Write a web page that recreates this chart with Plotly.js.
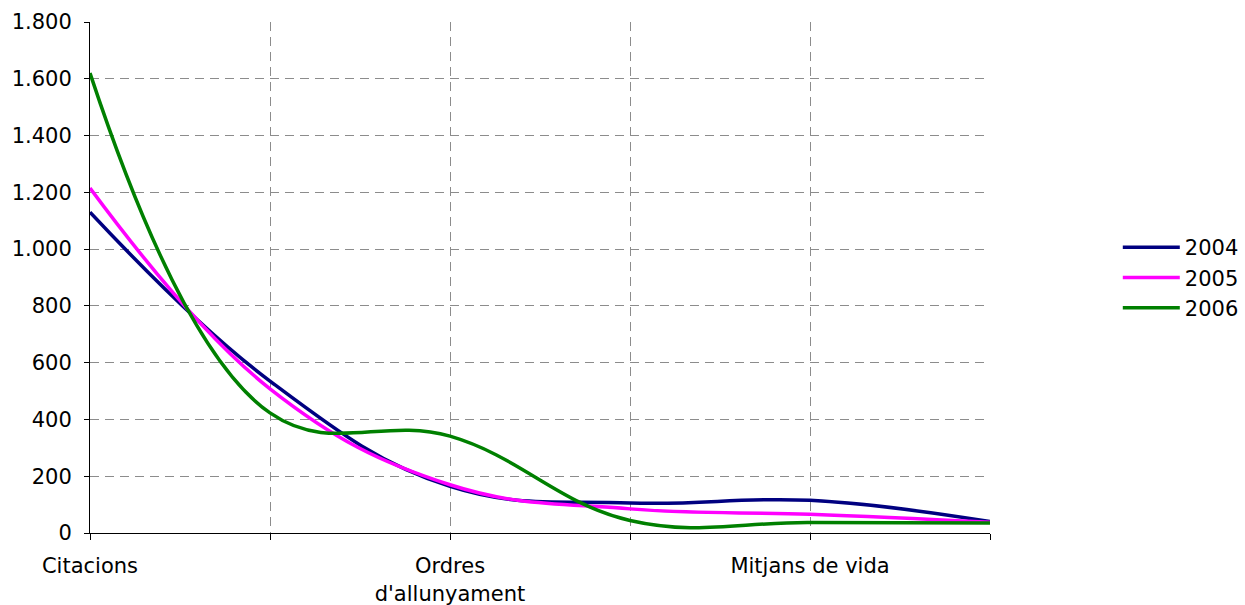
<!DOCTYPE html>
<html>
<head>
<meta charset="utf-8">
<script src="https://cdn.plot.ly/plotly-3.0.1.min.js"></script>
<style>html,body{margin:0;padding:0;background:#fff;}#chart{width:1245px;height:605px;}</style>
</head>
<body>
<div id="chart"></div>
<script>
// Category positions (6 categories, only every other one labelled)
var categoryIndex = [0, 1, 2, 3, 4, 5];
var tickLabels = ["Citacions", "", "Ordres<br>d'allunyament", "", "Mitjans de vida", ""];
var seriesNames = ["2004", "2005", "2006"];
var values2004 = [1130, 535, 164, 106, 115, 40];
var values2005 = [1215, 508, 170, 85, 66, 38];
var values2006 = [1620, 423, 341, 44, 37, 35];
var colors = ["#000080", "#FF00FF", "#008000"];

var allValues = [values2004, values2005, values2006];
var traces = allValues.map(function (vals, i) {
  return {
    x: categoryIndex,
    y: vals,
    type: "scatter",
    mode: "lines",
    name: seriesNames[i],
    line: { color: colors[i], width: 3.5, shape: "spline", smoothing: 1.15 },
    hoverinfo: "skip"
  };
});

var font = { family: "DejaVu Sans, Verdana, sans-serif", size: 21, color: "#000" };

var layout = {
  width: 1245,
  height: 605,
  margin: { l: 90, r: 255, t: 22, b: 72, pad: 0, autoexpand: false },
  paper_bgcolor: "#fff",
  plot_bgcolor: "#fff",
  font: font,
  separators: ",.",
  showlegend: true,
  legend: {
    x: 1.142, xref: "paper", xanchor: "left",
    y: 0.5, yanchor: "middle",
    font: font,
    itemwidth: 57,
    tracegroupgap: 0,
    bgcolor: "rgba(0,0,0,0)"
  },
  xaxis: {
    range: [0, 5],
    tickmode: "array",
    tickvals: categoryIndex,
    ticktext: tickLabels,
    ticks: "outside",
    ticklen: 6,
    tickcolor: "#000",
    showline: true,
    linecolor: "#000",
    linewidth: 1,
    showgrid: true,
    gridcolor: "#8c8c8c",
    griddash: "9px,6px",
    gridwidth: 1,
    zeroline: false,
    tickangle: 0,
    ticklabelstandoff: 8,
    automargin: false,
    fixedrange: true
  },
  yaxis: {
    range: [0, 1800],
    tick0: 0,
    dtick: 200,
    tickformat: ",.0f",
    ticks: "outside",
    ticklen: 5,
    tickcolor: "#000",
    showline: true,
    linecolor: "#000",
    linewidth: 1,
    showgrid: true,
    gridcolor: "#8c8c8c",
    griddash: "9px,6px",
    gridwidth: 1,
    zeroline: false,
    ticklabelstandoff: 8,
    automargin: false,
    fixedrange: true
  }
};

Plotly.newPlot("chart", traces, layout, { displayModeBar: false, staticPlot: true });
</script>
</body>
</html>
